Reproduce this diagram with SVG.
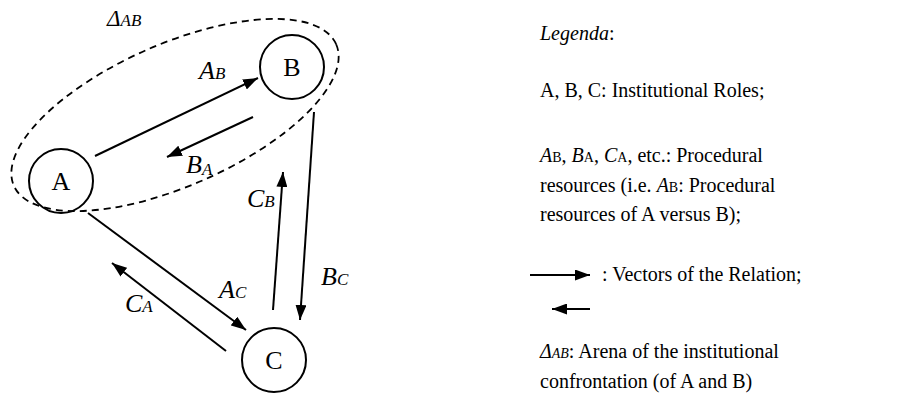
<svg xmlns="http://www.w3.org/2000/svg" width="904" height="395" viewBox="0 0 904 395" font-family="Liberation Serif, Times New Roman, serif">
<style>
text{font-family:Liberation Serif, Times New Roman, serif;fill:#000}
.node{fill:none;stroke:#000;stroke-width:2}
.nl{font-size:26px}
.lbl{font-size:26px;font-style:italic}
.sub{font-size:17px}
.edge{stroke:#000;stroke-width:2;fill:none;marker-end:url(#ah)}
.arena{fill:none;stroke:#000;stroke-width:1.8;stroke-dasharray:7 5}
.leg{font-size:20px}
.it{font-style:italic}
.ls{font-size:14px}
</style>
<defs>
<marker id="ah" markerUnits="userSpaceOnUse" markerWidth="15" markerHeight="11" refX="15" refY="5.5" orient="auto">
<path d="M0,0 L15,5.5 L0,11 z" fill="#000"/>
</marker>
</defs>
<g id="arena">
<ellipse class="arena" cx="175" cy="115" rx="176" ry="71" transform="rotate(-23.7 175 115)"/>
<text class="lbl" x="107" y="26" style="font-size:23px">Δ<tspan style="font-size:17px">AB</tspan></text>
</g>
<g id="connectors">
<line class="edge" x1="95" y1="156" x2="258" y2="78"/>
<line class="edge" x1="253" y1="117" x2="167" y2="157"/>
<line class="edge" x1="314" y1="112" x2="300" y2="320"/>
<line class="edge" x1="273" y1="310" x2="283" y2="172"/>
<line class="edge" x1="88" y1="213" x2="246" y2="330"/>
<line class="edge" x1="226" y1="351" x2="112" y2="263"/>
</g>
<g id="edge-labels">
<text class="lbl" x="199" y="79">A<tspan class="sub">B</tspan></text>
<text class="lbl" x="186" y="173">B<tspan class="sub" dy="2">A</tspan></text>
<text class="lbl" x="247" y="207">C<tspan class="sub">B</tspan></text>
<text class="lbl" x="321" y="285">B<tspan class="sub">C</tspan></text>
<text class="lbl" x="219" y="298">A<tspan class="sub">C</tspan></text>
<text class="lbl" x="125" y="312">C<tspan class="sub">A</tspan></text>
</g>
<g id="node-A">
<circle class="node" cx="61" cy="181" r="32"/>
<text class="nl" x="61" y="190" text-anchor="middle">A</text>
</g>
<g id="node-B">
<circle class="node" cx="292" cy="67" r="32"/>
<text class="nl" x="292" y="76" text-anchor="middle">B</text>
</g>
<g id="node-C">
<circle class="node" cx="274" cy="360" r="32"/>
<text class="nl" x="274" y="369" text-anchor="middle">C</text>
</g>
<g id="legend">
<text class="leg" x="540" y="40"><tspan class="it">Legenda</tspan>:</text>
<text class="leg" x="540" y="97">A, B, C: Institutional Roles;</text>
<text class="leg" x="540" y="162"><tspan class="it">A</tspan><tspan class="ls">B</tspan>, <tspan class="it">B</tspan><tspan class="ls">A</tspan>, <tspan class="it">C</tspan><tspan class="ls">A</tspan>, etc.: Procedural</text>
<text class="leg" x="540" y="192">resources (i.e. <tspan class="it">A</tspan><tspan class="ls">B</tspan>: Procedural</text>
<text class="leg" x="540" y="221">resources of A versus B);</text>
<line class="edge" x1="530" y1="275" x2="590" y2="275"/>
<line class="edge" x1="590" y1="309" x2="552" y2="309"/>
<text class="leg" x="602" y="281">: Vectors of the Relation;</text>
<text class="leg" x="540" y="358"><tspan class="it">Δ</tspan><tspan class="it ls">AB</tspan>: Arena of the institutional</text>
<text class="leg" x="540" y="388">confrontation (of A and B)</text>
</g>
</svg>
